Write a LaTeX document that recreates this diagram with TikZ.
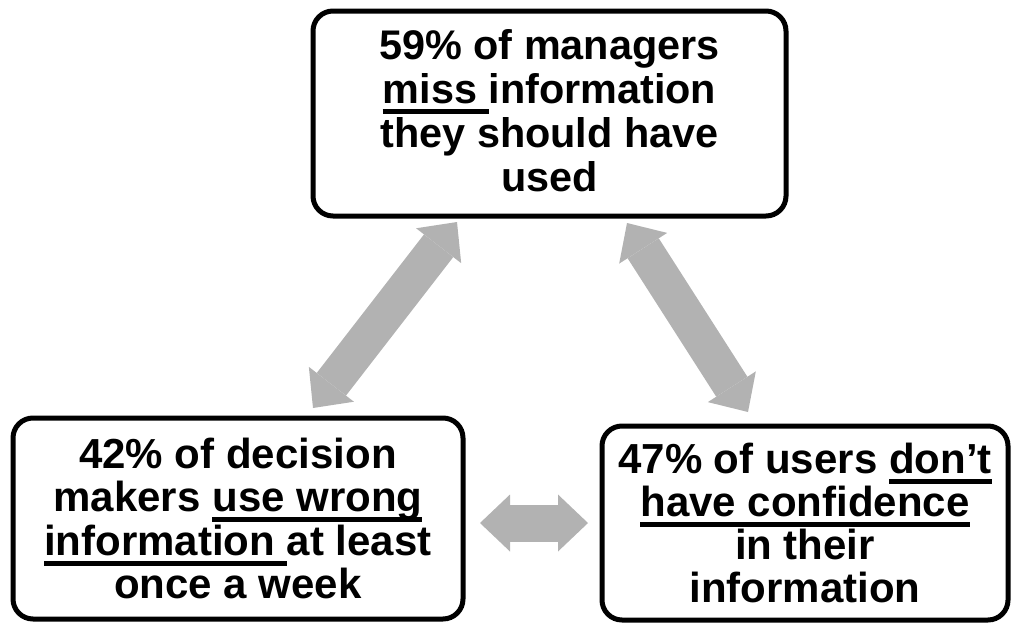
\documentclass[tikz,border=0pt]{standalone}
\usepackage{fontspec}
\setmainfont{Liberation Sans}
\usetikzlibrary{arrows.meta}
\definecolor{arrowgray}{RGB}{178,178,178}
\newcommand\myul[1]{\setbox0\hbox{#1}\rlap{\rule[-0.25em]{\wd0}{0.12em}}\box0}
\tikzset{
  statbox/.style={draw=black, line width=5pt, rounded corners=20pt, fill=white,
    align=center, inner sep=0pt,
    font=\fontsize{42}{43.3}\selectfont\bfseries},
  dblarrow/.style={draw=arrowgray, line width=37pt,
    {Triangle[length=30pt,width=57pt,line width=0pt]}-{Triangle[length=30pt,width=57pt,line width=0pt]}}
}
\begin{document}
\begin{tikzpicture}[x=1pt,y=-1pt]
\useasboundingbox (0,0) rectangle (1011,624);
\node[statbox, minimum width=473pt, minimum height=205pt,
      font=\fontsize{41.4}{43.7}\selectfont\bfseries] (top) at (549.5,113.5)
  {59\% of managers\\ \myul{miss\ }information\\ they should have\\ used\rule[-6pt]{0pt}{6pt}};
\node[statbox, minimum width=450pt, minimum height=201pt] (left) at (238,518.5)
  {42\% of decision\\ makers \myul{use wrong}\\ \myul{information\ }at least\\ once a week};
\node[statbox, minimum width=406pt, minimum height=194pt] (right) at (805,523)
  {47\% of users \myul{don’t}\\ \myul{have confidence}\\ in their\\ information};
\coordinate (tl) at (457,222);
\coordinate (lt) at (313,408);
\coordinate (tr) at (627,223);
\coordinate (rt) at (748,412);
\coordinate (lr) at (480,523);
\coordinate (rl) at (588,523);
\draw[dblarrow] (tl) -- (lt);
\draw[dblarrow] (tr) -- (rt);
\draw[dblarrow] (lr) -- (rl);
\end{tikzpicture}
\end{document}
